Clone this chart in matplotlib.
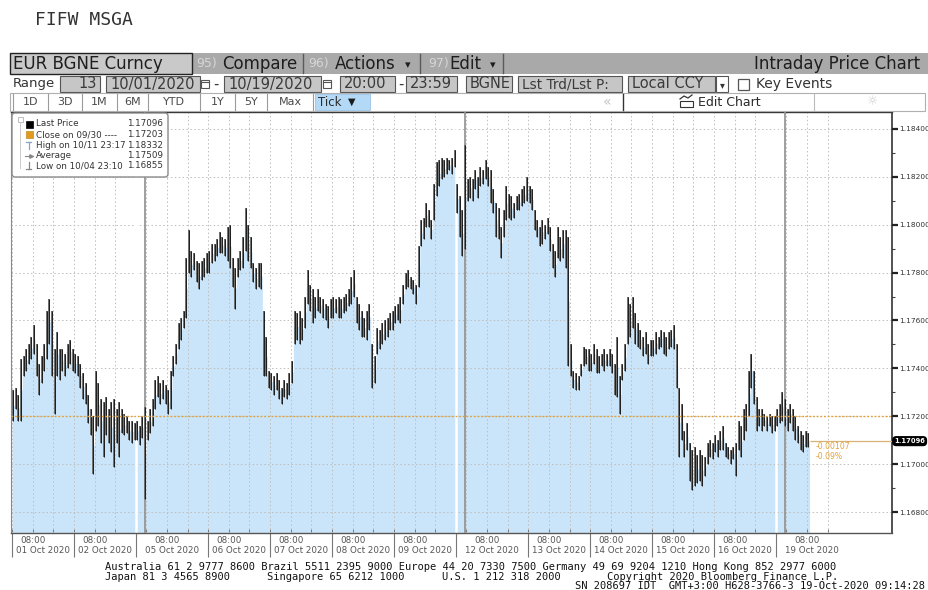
"""Bloomberg style intraday price chart for EUR BGNE Curncy.
"""
import matplotlib
matplotlib.use("Agg")
import matplotlib.pyplot as plt
from matplotlib.patches import Rectangle, FancyBboxPatch
from matplotlib.transforms import blended_transform_factory
from matplotlib.ticker import FormatStrFormatter
import numpy as np

FIG_W, FIG_H = 929, 590

# Hourly bars, sessions laid end to end (Sunday evenings are 4 bars)
bar_high = [
    # 01 Oct
    1.1731, 1.1732, 1.1729, 1.1744, 1.1745, 1.1748, 1.1750, 1.1753, 1.1758, 1.1750, 1.1742, 1.1745,
    1.1750, 1.1764, 1.1769, 1.1764, 1.1748, 1.1755, 1.1748, 1.1748, 1.1746, 1.1750, 1.1752, 1.1748,
    # 02 Oct
    1.1746, 1.1745, 1.1742, 1.1738, 1.1734, 1.1729, 1.1723, 1.1720, 1.1739, 1.1734, 1.1727, 1.1726,
    1.1728, 1.1723, 1.1726, 1.1727, 1.1723, 1.1726, 1.1723, 1.1721, 1.1720, 1.1718, 1.1718, 1.1717,
    # 04 Oct (Sun)
    1.1718, 1.1716, 1.1720, 1.1724,
    # 05 Oct
    1.1718, 1.1723, 1.1727, 1.1735, 1.1737, 1.1734, 1.1735, 1.1733, 1.1731, 1.1739, 1.1745, 1.1750,
    1.1759, 1.1761, 1.1764, 1.1786, 1.1798, 1.1789, 1.1788, 1.1785, 1.1784, 1.1785, 1.1786, 1.1788,
    # 06 Oct
    1.1789, 1.1792, 1.1792, 1.1794, 1.1797, 1.1795, 1.1794, 1.1799, 1.1800, 1.1786, 1.1782, 1.1786,
    1.1789, 1.1795, 1.1807, 1.1800, 1.1795, 1.1784, 1.1782, 1.1784, 1.1784, 1.1764, 1.1753, 1.1739,
    # 07 Oct
    1.1738, 1.1737, 1.1738, 1.1735, 1.1732, 1.1735, 1.1734, 1.1738, 1.1743, 1.1764, 1.1763, 1.1764,
    1.1761, 1.1770, 1.1781, 1.1775, 1.1773, 1.1770, 1.1773, 1.1770, 1.1769, 1.1767, 1.1766, 1.1769,
    # 08 Oct
    1.1770, 1.1769, 1.1770, 1.1769, 1.1770, 1.1771, 1.1773, 1.1778, 1.1781, 1.1770, 1.1767, 1.1764,
    1.1761, 1.1764, 1.1767, 1.1750, 1.1745, 1.1757, 1.1756, 1.1759, 1.1760, 1.1761, 1.1763, 1.1764,
    # 09 Oct
    1.1766, 1.1767, 1.1770, 1.1775, 1.1780, 1.1781, 1.1778, 1.1777, 1.1775, 1.1791, 1.1802, 1.1803,
    1.1809, 1.1806, 1.1802, 1.1817, 1.1826, 1.1827, 1.1828, 1.1827, 1.1828, 1.1827, 1.1828, 1.1831,
    # 11 Oct (Sun)
    1.1817, 1.1812, 1.1806, 1.18332,
    # 12 Oct
    1.1819, 1.1820, 1.1819, 1.1823, 1.1820, 1.1824, 1.1823, 1.1827, 1.1824, 1.1823, 1.1815, 1.1809,
    1.1807, 1.1799, 1.1806, 1.1816, 1.1813, 1.1812, 1.1809, 1.1812, 1.1813, 1.1815, 1.1816, 1.1820,
    # 13 Oct
    1.1816, 1.1815, 1.1806, 1.1802, 1.1799, 1.1802, 1.1800, 1.1803, 1.1799, 1.1792, 1.1789, 1.1799,
    1.1795, 1.1798, 1.1798, 1.1795, 1.1750, 1.1739, 1.1738, 1.1737, 1.1742, 1.1749, 1.1748, 1.1748,
    # 14 Oct
    1.1746, 1.1750, 1.1748, 1.1745, 1.1746, 1.1748, 1.1746, 1.1748, 1.1746, 1.1742, 1.1753, 1.1737,
    1.1742, 1.1750, 1.1770, 1.1767, 1.1770, 1.1763, 1.1759, 1.1756, 1.1753, 1.1755, 1.1750, 1.1752,
    # 15 Oct
    1.1752, 1.1755, 1.1753, 1.1756, 1.1755, 1.1753, 1.1755, 1.1756, 1.1758, 1.1750, 1.1732, 1.1725,
    1.1714, 1.1717, 1.1709, 1.1706, 1.1707, 1.1704, 1.1706, 1.1704, 1.1703, 1.1709, 1.1710, 1.1709,
    # 16 Oct
    1.1712, 1.1710, 1.1714, 1.1716, 1.1709, 1.1707, 1.1706, 1.1707, 1.1709, 1.1718, 1.1716, 1.1723,
    1.1725, 1.1739, 1.1746, 1.1739, 1.1728, 1.1723, 1.1723, 1.1721, 1.1720, 1.1721, 1.1720, 1.1720,
    # 18 Oct (Sun)
    1.1723, 1.1725, 1.1730, 1.1727,
    # 19 Oct
    1.1723, 1.1725, 1.1723, 1.1720, 1.1716, 1.1714, 1.1712, 1.1714, 1.1713,
]
bar_low = [
    # 01 Oct
    1.1718, 1.1723, 1.1718, 1.1718, 1.1737, 1.1739, 1.1742, 1.1744, 1.1746, 1.1737, 1.1729, 1.1734,
    1.1739, 1.1744, 1.1750, 1.1737, 1.1721, 1.1737, 1.1735, 1.1739, 1.1737, 1.1740, 1.1742, 1.1739,
    # 02 Oct
    1.1738, 1.1737, 1.1732, 1.1727, 1.1725, 1.1717, 1.1712, 1.1696, 1.1714, 1.1716, 1.1709, 1.1703,
    1.1712, 1.1709, 1.1705, 1.1699, 1.1709, 1.1703, 1.1713, 1.1712, 1.1713, 1.1710, 1.1709, 1.1710,
    # 04 Oct (Sun)
    1.1710, 1.1708, 1.1711, 1.16855,
    # 05 Oct
    1.1710, 1.1713, 1.1716, 1.1723, 1.1728, 1.1725, 1.1727, 1.1725, 1.1721, 1.1723, 1.1737, 1.1742,
    1.1748, 1.1752, 1.1757, 1.1761, 1.1780, 1.1778, 1.1781, 1.1776, 1.1773, 1.1777, 1.1778, 1.1780,
    # 06 Oct
    1.1780, 1.1784, 1.1785, 1.1787, 1.1788, 1.1788, 1.1787, 1.1785, 1.1782, 1.1774, 1.1765, 1.1778,
    1.1781, 1.1782, 1.1789, 1.1785, 1.1782, 1.1776, 1.1773, 1.1774, 1.1773, 1.1737, 1.1737, 1.1732,
    # 07 Oct
    1.1731, 1.1729, 1.1731, 1.1727, 1.1725, 1.1728, 1.1727, 1.1729, 1.1734, 1.1750, 1.1752, 1.1750,
    1.1752, 1.1757, 1.1767, 1.1764, 1.1759, 1.1761, 1.1764, 1.1763, 1.1761, 1.1760, 1.1757, 1.1761,
    # 08 Oct
    1.1761, 1.1763, 1.1761, 1.1761, 1.1763, 1.1764, 1.1766, 1.1767, 1.1770, 1.1759, 1.1756, 1.1753,
    1.1753, 1.1752, 1.1756, 1.1732, 1.1734, 1.1746, 1.1748, 1.1750, 1.1752, 1.1753, 1.1756, 1.1756,
    # 09 Oct
    1.1759, 1.1760, 1.1759, 1.1767, 1.1773, 1.1774, 1.1773, 1.1771, 1.1767, 1.1774, 1.1791, 1.1794,
    1.1799, 1.1799, 1.1794, 1.1802, 1.1812, 1.1816, 1.1819, 1.1820, 1.1821, 1.1823, 1.1821, 1.1824,
    # 11 Oct (Sun)
    1.1805, 1.1795, 1.1787, 1.1790,
    # 12 Oct
    1.1810, 1.1811, 1.1810, 1.1815, 1.1811, 1.1816, 1.1817, 1.1819, 1.1816, 1.1809, 1.1805, 1.1795,
    1.1794, 1.1786, 1.1795, 1.1802, 1.1803, 1.1802, 1.1803, 1.1806, 1.1806, 1.1808, 1.1809, 1.1810,
    # 13 Oct
    1.1809, 1.1806, 1.1798, 1.1795, 1.1791, 1.1792, 1.1794, 1.1796, 1.1789, 1.1782, 1.1778, 1.1786,
    1.1785, 1.1786, 1.1782, 1.1741, 1.1737, 1.1732, 1.1731, 1.1731, 1.1737, 1.1741, 1.1742, 1.1739,
    # 14 Oct
    1.1739, 1.1742, 1.1738, 1.1738, 1.1741, 1.1739, 1.1741, 1.1741, 1.1738, 1.1729, 1.1728, 1.1721,
    1.1735, 1.1739, 1.1750, 1.1753, 1.1757, 1.1750, 1.1749, 1.1748, 1.1745, 1.1746, 1.1742, 1.1745,
    # 15 Oct
    1.1745, 1.1746, 1.1748, 1.1749, 1.1746, 1.1745, 1.1748, 1.1749, 1.1748, 1.1732, 1.1703, 1.1710,
    1.1703, 1.1706, 1.1693, 1.1689, 1.1691, 1.1692, 1.1693, 1.1691, 1.1695, 1.1700, 1.1703, 1.1702,
    # 16 Oct
    1.1705, 1.1703, 1.1706, 1.1706, 1.1703, 1.1702, 1.1700, 1.1702, 1.1695, 1.1706, 1.1703, 1.1710,
    1.1714, 1.1720, 1.1732, 1.1725, 1.1714, 1.1716, 1.1714, 1.1716, 1.1714, 1.1716, 1.1713, 1.1714,
    # 18 Oct (Sun)
    1.1716, 1.1717, 1.1718, 1.1716,
    # 19 Oct
    1.1714, 1.1717, 1.1714, 1.1710, 1.1709, 1.1706, 1.1705, 1.1707, 1.1707,
]
assert len(bar_high) == len(bar_low)

last_price = 1.17096
prev_close = 1.17203
change_abs = "-0.00107"
change_pct = "-0.09%"

legend_names = ["Last Price", "Close on 09/30 ----", "High on 10/11 23:17", "Average", "Low on 10/04 23:10"]
legend_values = ["1.17096", "1.17203", "1.18332", "1.17509", "1.16855"]

day_labels = ["01 Oct 2020", "02 Oct 2020", "05 Oct 2020", "06 Oct 2020", "07 Oct 2020",
              "08 Oct 2020", "09 Oct 2020", "12 Oct 2020", "13 Oct 2020", "14 Oct 2020",
              "15 Oct 2020", "16 Oct 2020", "19 Oct 2020"]
box_start = [0, 24, 48, 76, 100, 124, 148, 172, 200, 224, 248, 272, 296]
box_end = box_start[1:] + [324]
session_open = [0, 24, 52, 76, 100, 124, 148, 176, 200, 224, 248, 272, 300]

y_major = [1.168, 1.170, 1.172, 1.174, 1.176, 1.178, 1.180, 1.182, 1.184]
y_minor = [1.169, 1.171, 1.173, 1.175, 1.177, 1.179, 1.181, 1.183]

BLUE_FILL = "#cae5f9"
ORANGE = "#e2a23a"
GRID = "#bdbdbd"

fig = plt.figure(figsize=(FIG_W / 100, FIG_H / 100), dpi=100)
fig.patch.set_facecolor("white")

# ---------------- main chart ----------------
ax = fig.add_axes([11 / FIG_W, (FIG_H - 533) / FIG_H, 881 / FIG_W, 421 / FIG_H])
ax.set_xlim(-0.4, 340.95)
ax.set_ylim(1.167123, 1.184708)

hi = np.array(bar_high)
lo = np.array(bar_low)
xs = np.arange(len(hi)) + 0.5
mid = (hi + lo) / 2
edges = np.arange(len(hi) + 1)
ax.fill_between(edges, np.append(mid, mid[-1]), 1.16, step="post", color=BLUE_FILL, lw=0, zorder=1)

blend_x = blended_transform_factory(ax.transData, ax.transAxes)
grid_hours = [o + k * 8 for o in session_open for k in range(3)]
ax.vlines(grid_hours, 0, 1, transform=blend_x, color=GRID, lw=0.7, ls=(0, (1.5, 2.5)), zorder=2)
for t in y_major:
    ax.axhline(t, color=GRID, lw=0.7, ls=(0, (1.5, 2.5)), zorder=2)

# weekend breaks
for b, o in zip(box_start, session_open):
    if b != o:
        ax.axvline(b, color="white", lw=1.8, zorder=2.5)
        ax.axvline(o - 0.6, color="#8f8f8f", lw=1.2, zorder=2.6)

ax.vlines(xs, lo, hi, color="#6e6e6e", lw=1.4, zorder=3)
ax.vlines(xs, lo, hi, color="#1e1e1e", lw=0.7, zorder=4)

ax.axhline(prev_close, color=ORANGE, lw=1.0, ls=(0, (1.3, 1.3)), zorder=5)
ax.hlines(last_price, xs[-1] + 0.5, 340.95, color="#d7b274", lw=0.9, zorder=5)
ax.text(311.3, last_price - 0.00024, change_abs, fontsize=5.6, color=ORANGE, va="center", zorder=6)
ax.text(311.3, last_price - 0.00066, change_pct, fontsize=5.6, color=ORANGE, va="center", zorder=6)

# right axis
ax.yaxis.tick_right()
ax.set_yticks(y_major)
ax.set_yticks(y_minor, minor=True)
ax.yaxis.set_major_formatter(FormatStrFormatter("%.5f"))
ax.tick_params(axis="y", which="major", direction="out", length=4, width=1.6,
               color="#222222", labelsize=5.3, labelcolor="#333333", pad=1.0)
ax.tick_params(axis="y", which="minor", direction="out", length=2.5, width=0.8, color="#444444")
ax.set_xticks(grid_hours)
ax.set_xticklabels([])
ax.tick_params(axis="x", direction="in", length=3, width=0.7, color="#777777")

for side, col, lw in [("top", "#333333", 1.0), ("right", "#222222", 1.1),
                      ("left", "#8a8a8a", 0.8), ("bottom", "#555555", 1.0)]:
    ax.spines[side].set_color(col)
    ax.spines[side].set_linewidth(lw)

blend_y = blended_transform_factory(ax.transAxes, ax.transData)
ax.text(1.0025, last_price, f"{last_price:.5f}", transform=blend_y, ha="left", va="center",
        fontsize=4.9, color="white", fontweight="bold", clip_on=False, zorder=7,
        bbox=dict(boxstyle="round,pad=0.2,rounding_size=0.5", fc="black", ec="black"))

# x labels
for o in session_open:
    ax.text(o + 8, -0.017, "08:00", transform=blend_x, ha="center", va="center",
            fontsize=6.3, color="#555555", clip_on=False)
for lab, b0, b1 in zip(day_labels, box_start, box_end):
    ax.text((b0 + b1) / 2, -0.041, lab, transform=blend_x, ha="center", va="center",
            fontsize=6.3, color="#555555", clip_on=False)
ax.vlines(box_start, -0.058, 0, transform=blend_x, color="#777777", lw=0.8, clip_on=False)

# ---------------- terminal chrome (pixel coordinates) ----------------
ov = fig.add_axes([0, 0, 1, 1], zorder=5)
ov.set_xlim(0, FIG_W)
ov.set_ylim(FIG_H, 0)
ov.axis("off")
ov.patch.set_alpha(0)


def label(x, y, s, size, color="#222222", ha="left", family="DejaVu Sans", **kw):
    ov.text(x, y, s, fontsize=size, color=color, ha=ha, va="center", family=family, **kw)


def box(x0, y0, x1, y1, fc, ec="#555555", lw=0.8):
    ov.add_patch(Rectangle((x0, y0), x1 - x0, y1 - y0, fc=fc, ec=ec, lw=lw))


label(35, 20, "FIFW MSGA", 13, color="#333333", family="DejaVu Sans Mono")

# row 1
box(10, 53, FIG_W, 74, "#a9a9a9", ec="none")
box(10, 53, 192, 74, "#c9c9c9", ec="#222222", lw=1.0)
label(13, 64, "EUR BGNE Curncy", 12, color="#1e1e1e")
label(196, 64, "95)", 9, color="#d6d6d6")
label(222, 64, "Compare", 12, color="#1e1e1e")
label(308, 64, "96)", 9, color="#d6d6d6")
label(335, 64, "Actions", 12, color="#1e1e1e")
label(405, 65, "▾", 8, color="#1e1e1e")
label(428, 64, "97)", 9, color="#d6d6d6")
label(449, 64, "Edit", 12, color="#1e1e1e")
label(490, 65, "▾", 8, color="#1e1e1e")
for sx in [303, 420, 503]:
    ov.plot([sx, sx], [54, 73], color="#5a5a5a", lw=1)
label(920, 64, "Intraday Price Chart", 12, color="#1e1e1e", ha="right")

# row 2
label(13, 84, "Range", 9.5, color="#333333")
row2_boxes = [(60, 100, "13", "right"), (106, 200, "10/01/2020", "left"), (224, 321, "10/19/2020", "left"),
              (340, 395, "20:00", "left"), (406, 457, "23:59", "left"), (466, 512, "BGNE", "left"),
              (518, 622, "Lst Trd/Lst P:", "left"), (628, 715, "Local CCY", "left")]
for x0, x1, s, al in row2_boxes:
    box(x0, 76, x1, 92, "#c6c6c6")
    if al == "right":
        label(x1 - 3, 84, s, 10.5, color="#3a3a3a", ha="right")
    else:
        label(x0 + 4, 84, s, 10.5 if len(s) < 12 else 9.8, color="#3a3a3a")
for cx in [201, 323]:
    box(cx, 80, cx + 8, 88, "white", ec="#555555", lw=0.8)
    ov.plot([cx, cx + 8], [82, 82], color="#555555", lw=0.8)
label(213, 84, "-", 10.5, color="#3a3a3a")
label(398, 84, "-", 10.5, color="#3a3a3a")
box(716, 76, 728, 92, "white")
label(722, 85, "▾", 7, color="#333333", ha="center")
box(738, 79, 749, 90, "white", ec="#555555", lw=0.9)
label(756, 84, "Key Events", 10, color="#333333")

# row 3
box(10, 93, 925, 111, "white", ec="#b0b0b0", lw=0.8)
buttons = ["1D", "3D", "1M", "6M", "YTD", "1Y", "5Y", "Max"]
button_edges = [13, 48, 82, 117, 148, 200, 235, 267, 313]
for s, x0, x1 in zip(buttons, button_edges[:-1], button_edges[1:]):
    label((x0 + x1) / 2, 102, s, 8, color="#4a4a4a", ha="center")
for sx in button_edges:
    ov.plot([sx, sx], [94, 110], color="#9a9a9a", lw=0.8)
box(315, 94, 370, 110, "#b3d9f7", ec="#9cc3e6", lw=0.6)
label(318, 102, "Tick", 8.5, color="#2a2a2a")
label(348, 102, "▼", 7, color="#1a1a1a")
label(603, 102, "«", 10, color="#c4c4c4")
ov.plot([623, 623], [94, 110], color="#333333", lw=1)
ov.plot([814, 814], [94, 110], color="#bbbbbb", lw=0.8)
ov.plot([680, 684, 688, 692], [99, 96, 98, 95], color="#333333", lw=0.9)
box(680, 101, 693, 107, "white", ec="#333333", lw=0.8)
label(698, 102, "Edit Chart", 9, color="#2a2a2a")
label(873, 102, "☼", 9, color="#cccccc", ha="center")

# legend box
ov.add_patch(FancyBboxPatch((12, 113), 156, 64, boxstyle="round,pad=0,rounding_size=3",
                            fc="white", ec="#8a8a8a", lw=1.0, zorder=3))
ov.add_patch(Rectangle((18, 117), 5, 5, fc="white", ec="#bbbbbb", lw=0.7, zorder=4))
ov.plot([20.5, 20.5], [122, 168], color="#cccccc", lw=0.7, zorder=4)
row_y = [124, 134.5, 145, 155.5, 166]
for name, val, yy in zip(legend_names, legend_values, row_y):
    label(36, yy, name, 6.3, color="#333333", zorder=5)
    label(163, yy, val, 6.3, color="#333333", ha="right", zorder=5)
ov.add_patch(Rectangle((26, 120.5), 7, 7, fc="black", ec="black", lw=0.5, zorder=5))
ov.add_patch(Rectangle((26, 131), 7, 7, fc="#e09a20", ec="#c88a1a", lw=0.5, zorder=5))
ov.plot([26.5, 31.5], [141.5, 141.5], color="#8aa4c0", lw=0.9, zorder=5)
ov.plot([29, 29], [141.5, 148.5], color="#8aa4c0", lw=0.9, zorder=5)
ov.plot([25, 33], [155.5, 155.5], color="#888888", lw=0.8, zorder=5)
ov.plot([31], [155.5], marker=">", ms=2.5, color="#888888", zorder=5)
ov.plot([29, 29], [162, 169], color="#888888", lw=0.9, zorder=5)
ov.plot([26.5, 31.5], [169, 169], color="#888888", lw=0.9, zorder=5)

# footer
mono = "DejaVu Sans Mono"
label(105, 567, "Australia 61 2 9777 8600 Brazil 5511 2395 9000 Europe 44 20 7330 7500 "
      "Germany 49 69 9204 1210 Hong Kong 852 2977 6000", 7.5, color="#111111", family=mono)
label(105, 577, "Japan 81 3 4565 8900", 7.5, color="#111111", family=mono)
label(267, 577, "Singapore 65 6212 1000", 7.5, color="#111111", family=mono)
label(442, 577, "U.S. 1 212 318 2000", 7.5, color="#111111", family=mono)
label(607, 577, "Copyright 2020 Bloomberg Finance L.P.", 7.5, color="#111111", family=mono)
label(925, 586, "SN 208697 IDT  GMT+3:00 H628-3766-3 19-Oct-2020 09:14:28", 7.5,
      color="#111111", ha="right", family=mono)

fig.savefig("out.png", dpi=100)
